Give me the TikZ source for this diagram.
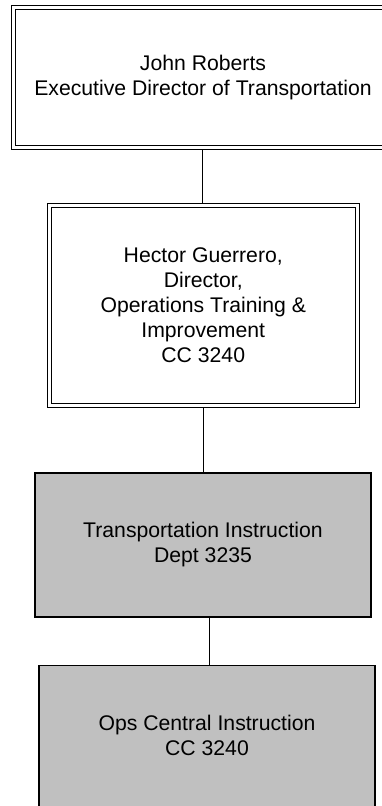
\documentclass[tikz,border=0pt]{standalone}
\usepackage{fontspec}
\setmainfont{Liberation Sans}
\usetikzlibrary{backgrounds}
\definecolor{boxgray}{HTML}{C0C0C0}
\tikzset{
  txt/.style={font=\fontsize{21.2}{25}\selectfont, align=center, inner sep=0pt},
  outerbox/.style={draw=black, line width=1pt, fill=white, inner sep=0pt},
  innerline/.style={draw=black, line width=1pt},
  graybox/.style={draw=black, line width=1.1pt, fill=boxgray, inner sep=0pt},
  link/.style={draw=black, line width=1pt}
}
\begin{document}
\begin{tikzpicture}[x=1pt, y=-1pt]
\useasboundingbox (0,0) rectangle (382,806);
\clip (0,0) rectangle (382,806);
\node[outerbox, minimum width=383pt, minimum height=144pt, txt] (a) at (203,77.25) {John Roberts\\Executive Director of Transportation};
\draw[innerline] ([shift={(4.5,4.7)}]a.north west) rectangle ([shift={(-4.5,-4.7)}]a.south east);
\node[outerbox, minimum width=312pt, minimum height=204pt, txt] (b) at (203.25,305.25) {Hector Guerrero,\\Director,\\Operations Training \&\\Improvement\\CC 3240};
\draw[innerline] ([shift={(4.5,4.7)}]b.north west) rectangle ([shift={(-4.5,-4.7)}]b.south east);
\node[graybox, minimum width=336pt, minimum height=144pt, txt] (c) at (203,545) {Transportation Instruction\\Dept 3235};
\node[graybox, minimum width=336pt, minimum height=170pt, anchor=north] (d) at (207,665) {};
\node[txt] (dt) at (207,735.5) {Ops Central Instruction\\CC 3240};
\begin{pgfonlayer}{background}
\draw[link] (a.south -| 202,0) -- (b.north -| 202,0);
\draw[link] (b.south -| 203,0) -- (c.north -| 203,0);
\draw[link] (c.south -| 209,0) -- (d.north -| 209,0);
\end{pgfonlayer}
\end{tikzpicture}
\end{document}
